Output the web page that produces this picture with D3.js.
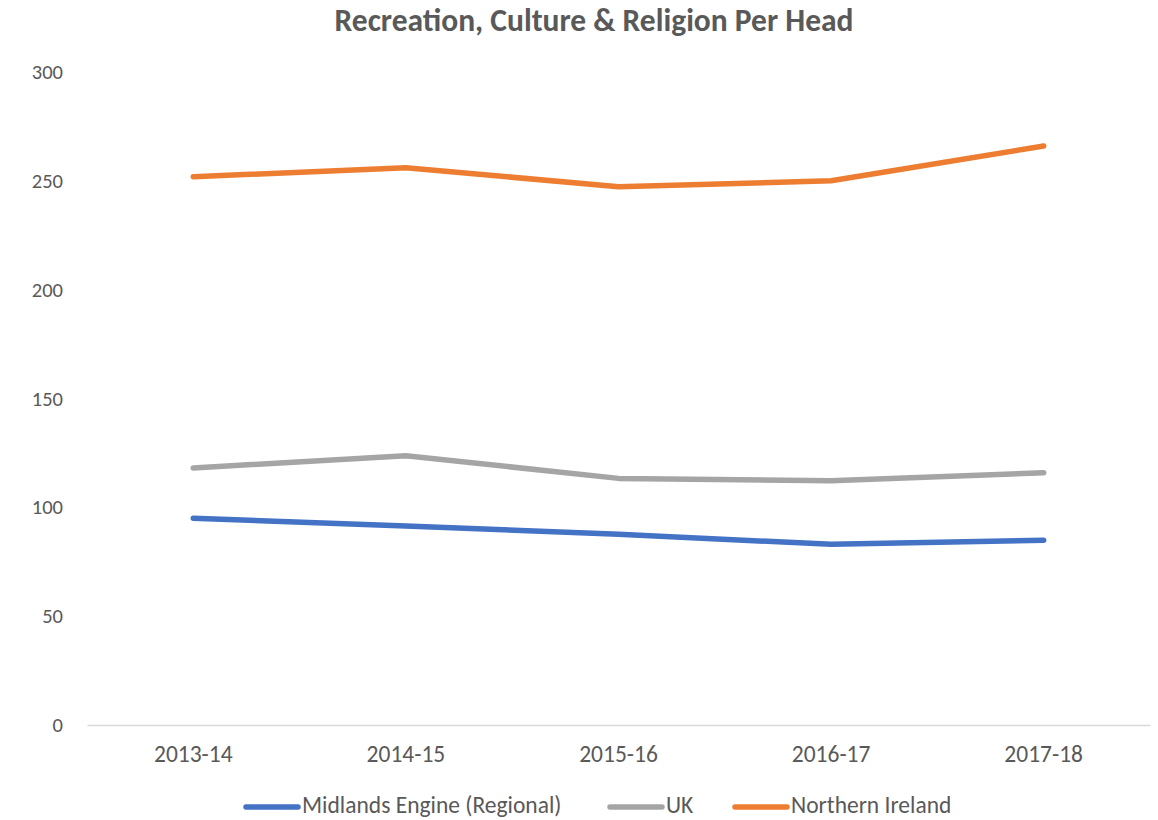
<!DOCTYPE html>
<html>
<head>
<meta charset="utf-8">
<script src="https://cdn.jsdelivr.net/npm/d3@7"></script>
<style>
  html, body { margin: 0; padding: 0; background: #fff; }
  svg { display: block; font-family: Carlito, Calibri, "Liberation Sans Narrow", Lato, "Open Sans", sans-serif; }
</style>
</head>
<body>
<svg id="chart" width="1158" height="820"></svg>
<script>
const title = "Recreation, Culture & Religion Per Head";
const categories = ["2013-14", "2014-15", "2015-16", "2016-17", "2017-18"];
const seriesNames = ["Midlands Engine (Regional)", "UK", "Northern Ireland"];
const midlandsValues = [95, 91.4, 87.6, 83, 84.9];
const ukValues = [118.1, 123.7, 113.3, 112.2, 115.9];
const northernIrelandValues = [251.9, 256, 247.3, 250, 266];
const yTicks = [0, 50, 100, 150, 200, 250, 300];
const colors = ["#4472C4", "#A5A5A5", "#ED7D31"];

const series = [
  { name: seriesNames[0], values: midlandsValues, color: colors[0] },
  { name: seriesNames[1], values: ukValues, color: colors[1] },
  { name: seriesNames[2], values: northernIrelandValues, color: colors[2] }
];

const svg = d3.select("#chart");
const plotLeft = 87, plotRight = 1150, plotTop = 72, plotBottom = 725;

const x = d3.scaleBand().domain(categories).range([plotLeft, plotRight]);
const y = d3.scaleLinear().domain([0, 300]).range([plotBottom, plotTop]);

// title
svg.append("text")
  .attr("x", 594).attr("y", 31)
  .attr("text-anchor", "middle")
  .attr("font-size", 31.5).attr("font-weight", "bold")
  .attr("fill", "#595959")
  .text(title);

// y axis labels
const yAxis = d3.axisLeft(y).tickValues(yTicks).tickSize(0).tickPadding(0);
const gy = svg.append("g").attr("transform", `translate(63,0)`).call(yAxis);
gy.attr("font-family", null);
gy.select(".domain").remove();
gy.selectAll("text").attr("font-size", 20.5).attr("fill", "#595959");

// x axis
const xAxis = d3.axisBottom(x).tickSize(0).tickPadding(20);
const gx = svg.append("g").attr("transform", `translate(0,${plotBottom})`).call(xAxis);
gx.attr("font-family", null);
gx.select(".domain").attr("stroke", "#D9D9D9").attr("stroke-width", 1.3);
gx.selectAll("text").attr("font-size", 23.5).attr("fill", "#595959");

// lines
const line = d3.line()
  .x((d, i) => x(categories[i]) + x.bandwidth() / 2)
  .y(d => y(d));

svg.append("g").selectAll("path")
  .data(series)
  .join("path")
  .attr("d", d => line(d.values))
  .attr("fill", "none")
  .attr("stroke", d => d.color)
  .attr("stroke-width", 5.5)
  .attr("stroke-linecap", "round")
  .attr("stroke-linejoin", "round");

// legend
const legendY = 805;
const legendX = [243, 607, 732];
const lg = svg.append("g").selectAll("g").data(series).join("g")
  .attr("transform", (d, i) => `translate(${legendX[i]},${legendY})`);
lg.append("line")
  .attr("x1", 3).attr("x2", 55).attr("y1", 2).attr("y2", 2)
  .attr("stroke", d => d.color).attr("stroke-width", 5.5).attr("stroke-linecap", "round");
lg.append("text")
  .attr("x", 59).attr("y", 0).attr("dy", "0.35em")
  .attr("font-size", 23.5).attr("fill", "#595959")
  .text(d => d.name);
</script>
</body>
</html>
